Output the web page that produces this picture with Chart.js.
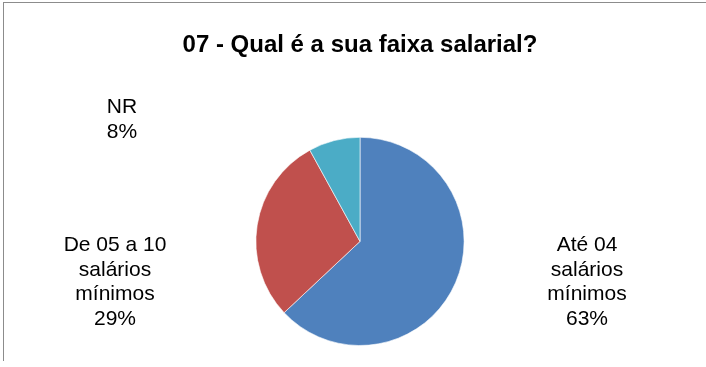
<!DOCTYPE html>
<html lang="pt">
<head>
  <meta charset="UTF-8">
  <title>07 - Qual é a sua faixa salarial?</title>
  <script src="https://cdn.jsdelivr.net/npm/chart.js"></script>
  <style>
    body {
      margin: 0;
      padding: 0;
      background: #fff;
      font-family: 'Liberation Sans', Arial, sans-serif;
    }
    .wrap {
      position: relative;
      width: 706px;
      height: 367px;
    }
    /* frame lines of the original sheet */
    .frame {
      position: absolute;
      left: 3px;
      top: 2px;
      width: 720px;
      height: 358px;
      border-top: 1px solid #8c8c8c;
      border-left: 1px solid #8c8c8c;
      pointer-events: none;
    }
  </style>
</head>
<body>

<div class="wrap">
  <canvas id="pieChart" width="706" height="367"></canvas>
  <div class="frame"></div>
</div>

<script>
  // chart data
  var categories = ['Até 04\nsalários\nmínimos', 'De 05 a 10\nsalários\nmínimos', 'NR'];
  var values = [63, 29, 8];
  var colors = ['#4F81BD', '#C0504D', '#4BACC6'];

  // outside labels, placed relative to the pie centre (dx, dy of the first line)
  var labelOffsets = [
    { dx: 227, dy: 4 },
    { dx: -245, dy: 4 },
    { dx: -238, dy: -134 }
  ];

  var outsideLabels = {
    id: 'outsideLabels',
    afterDraw: function(chart) {
      var ctx = chart.ctx;
      var arc = chart.getDatasetMeta(0).data[0];
      var cx = arc.x, cy = arc.y;
      var total = values.reduce(function(a, b) { return a + b; }, 0);
      ctx.save();
      ctx.fillStyle = '#000';
      ctx.font = '21px "Liberation Sans", Arial, sans-serif';
      ctx.textAlign = 'center';
      ctx.textBaseline = 'middle';
      categories.forEach(function(cat, i) {
        var lines = cat.split('\n');
        lines.push(Math.round(values[i] / total * 100) + '%');
        var off = labelOffsets[i];
        lines.forEach(function(line, j) {
          ctx.fillText(line, cx + off.dx, cy + off.dy + j * 24.5);
        });
      });
      ctx.restore();
    }
  };

  new Chart(document.getElementById('pieChart'), {
    type: 'pie',
    data: {
      labels: categories,
      datasets: [{
        data: values,
        backgroundColor: colors,
        borderColor: 'rgba(255,255,255,0.6)',
        borderWidth: 1
      }]
    },
    options: {
      responsive: false,
      animation: false,
      layout: {
        padding: { left: 14, right: 0, top: 0, bottom: 21 }
      },
      plugins: {
        legend: { display: false },
        tooltip: { enabled: false },
        title: {
          display: true,
          text: '07 - Qual é a sua faixa salarial?',
          color: '#000',
          font: { family: '"Liberation Sans", Arial, sans-serif', size: 24, weight: 'bold' },
          padding: { top: 31, bottom: 77 }
        }
      }
    },
    plugins: [outsideLabels]
  });
</script>

</body>
</html>
